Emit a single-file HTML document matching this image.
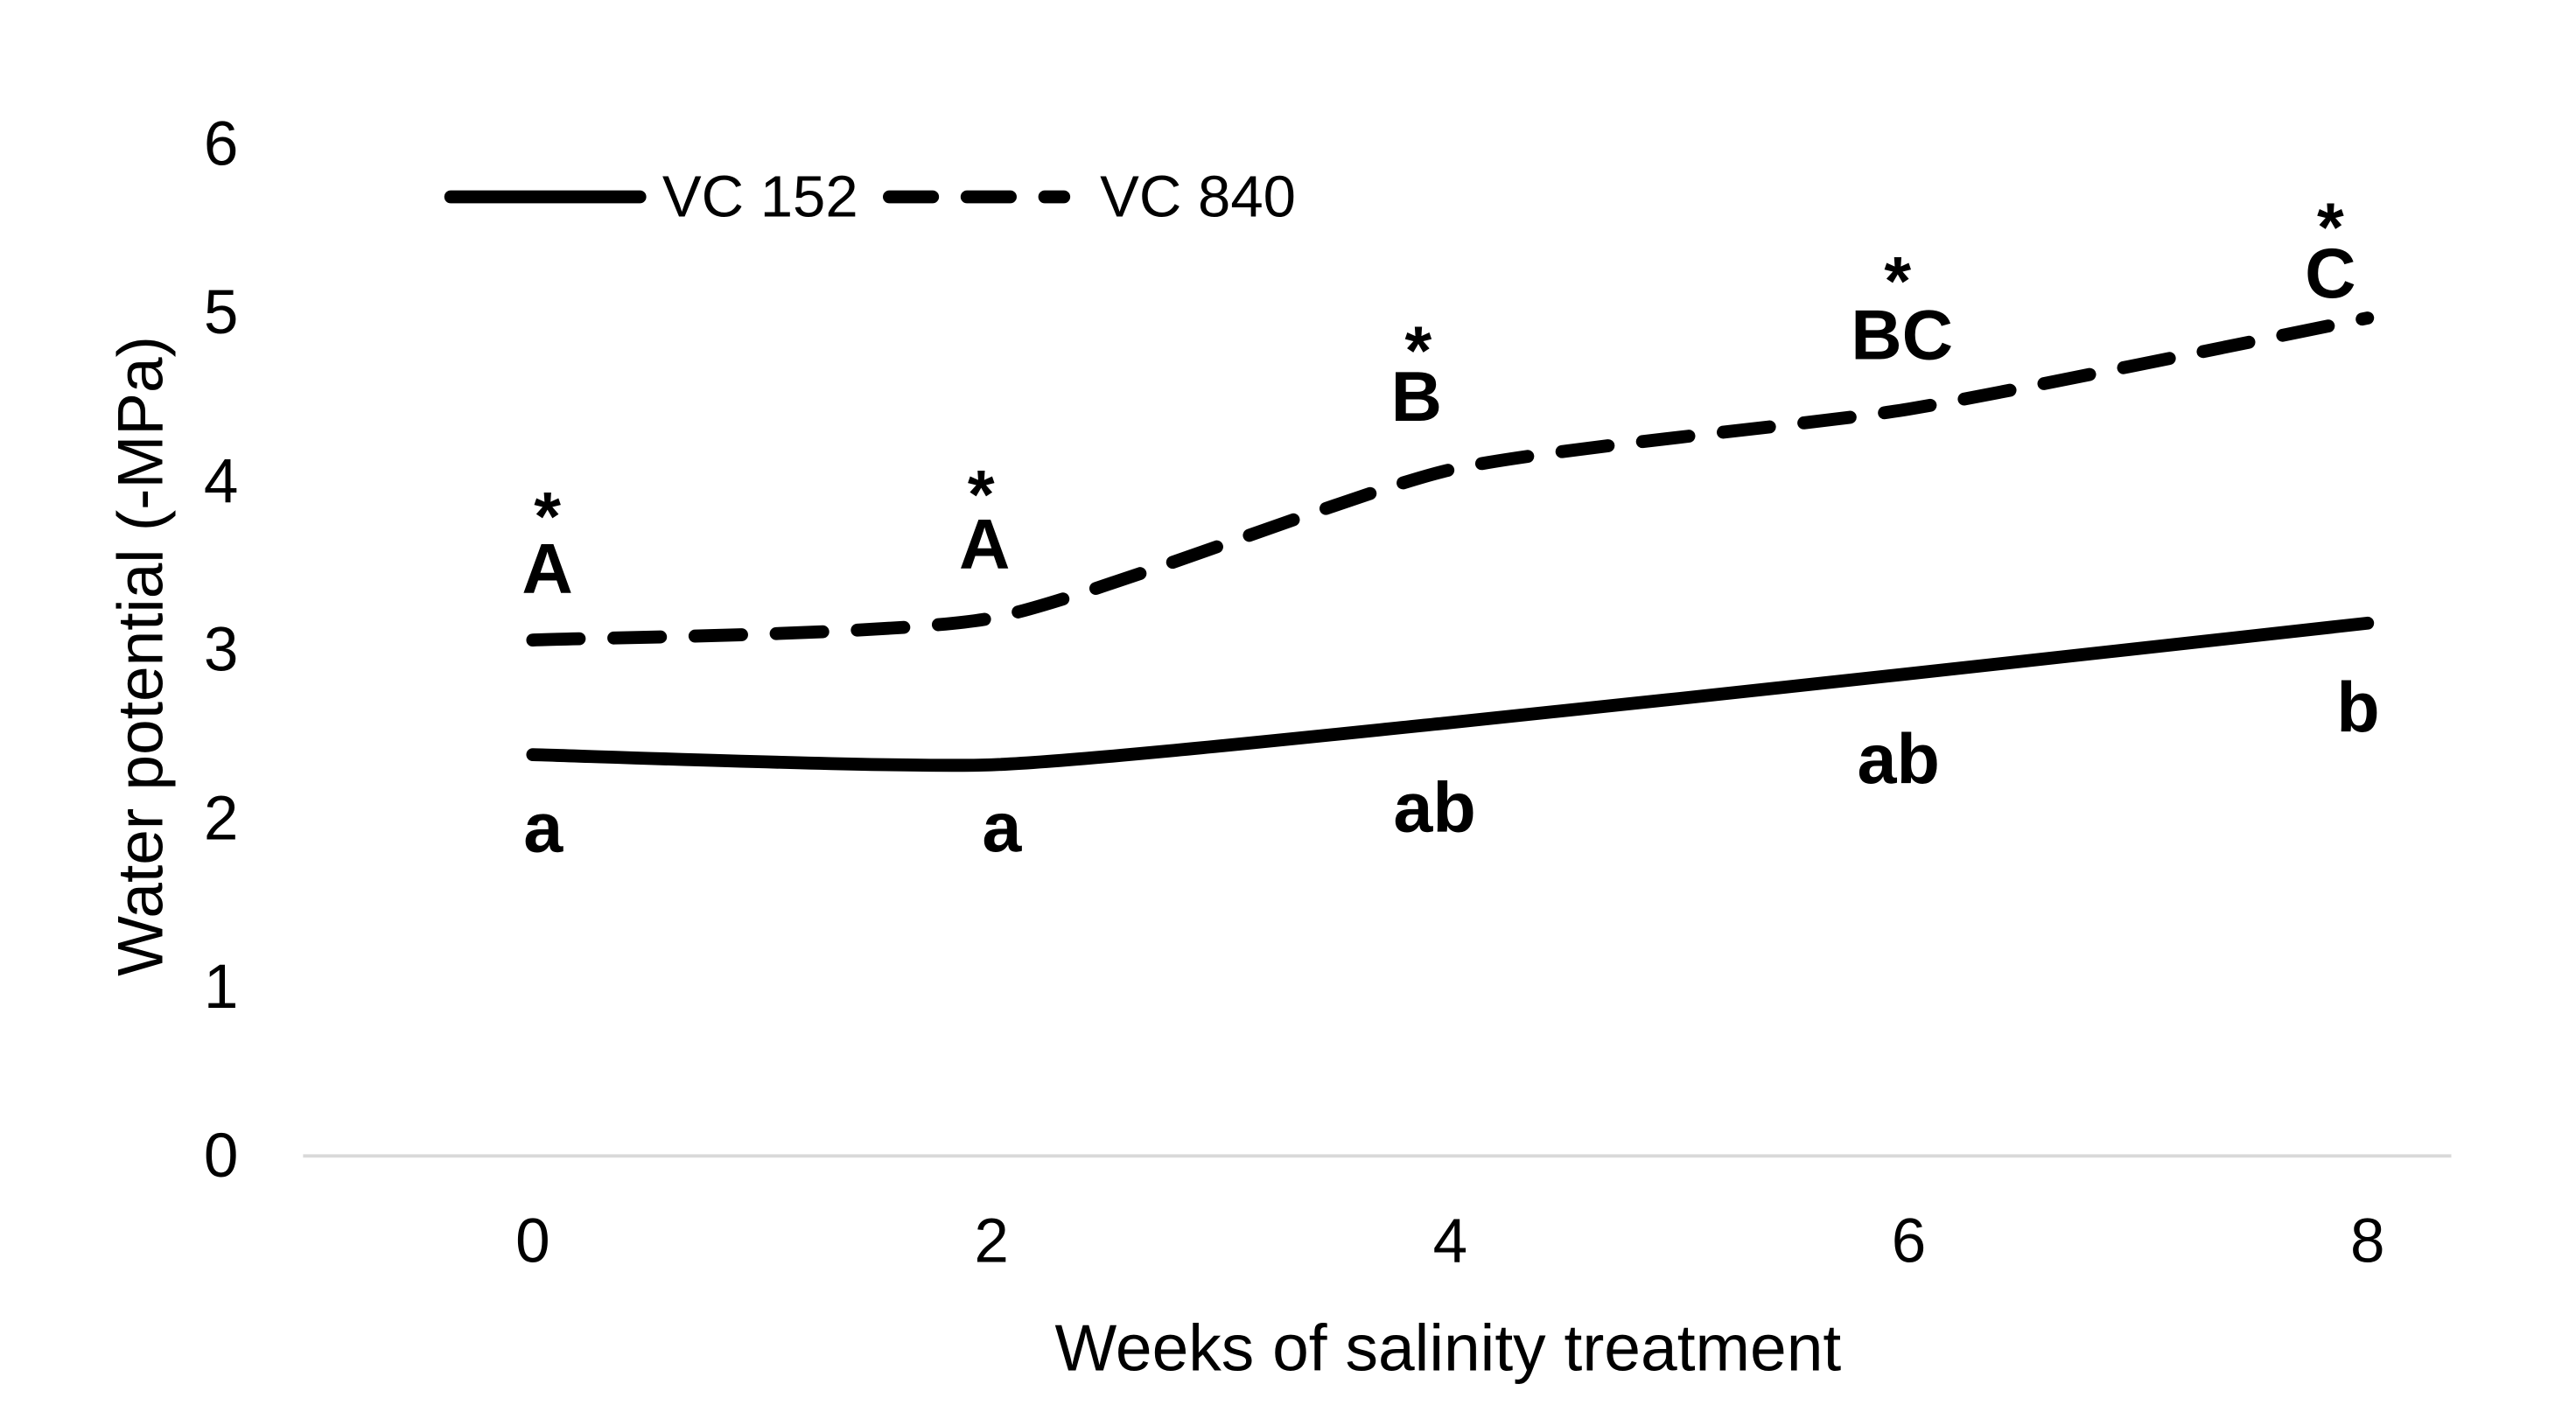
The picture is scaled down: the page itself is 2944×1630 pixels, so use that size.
<!DOCTYPE html>
<html><head><meta charset="utf-8"><style>
html,body{margin:0;padding:0;background:#fff;}
svg{display:block;font-family:"Liberation Sans",sans-serif;}
</style></head><body>
<svg id="chart" width="2944" height="1630" viewBox="0 0 2944 1630">
<rect width="2944" height="1630" fill="#fff"/>
<g transform="scale(0.9868)">
<g id="axes"></g><g id="series"></g><g id="labels"></g>
<text x="163" y="760" transform="rotate(-90 163 760)" text-anchor="middle" dominant-baseline="central" font-size="74" fill="#000">Water potential (-MPa)</text>
<text x="1677" y="1561" text-anchor="middle" dominant-baseline="central" font-size="76" fill="#000">Weeks of salinity treatment</text>
<g>
<line x1="522" y1="228" x2="741" y2="228" stroke="#000" stroke-width="15" stroke-linecap="round"/>
<text x="767" y="228" dominant-baseline="central" font-size="68">VC 152</text>
<line x1="1030" y1="228" x2="1232" y2="228" stroke="#000" stroke-width="15" stroke-linecap="round" stroke-dasharray="50 40"/>
<text x="1274" y="228" dominant-baseline="central" font-size="68">VC 840</text>
</g>
</g>
</svg>
<script>
const weeks=[0,2,4,6,8];
const vc152=[2.38,2.32,2.57,2.86,3.16];
const vc840=[3.06,3.19,4.07,4.43,4.97];
const yTicks=[0,1,2,3,4,5,6];
const lowerLetters=["a","a","ab","ab","b"];
const upperLetters=["A","A","B","BC","C"];
const NS="http://www.w3.org/2000/svg";
function xs(w){return 617+w*(2742-617)/8;}
function ys(v){return 1339-v*195.3;}
function mk(t,a,p){const e=document.createElementNS(NS,t);for(const k in a)e.setAttribute(k,a[k]);p.appendChild(e);return e;}
const axes=document.getElementById('axes');
const base=mk('line',{x1:351,x2:2839,y1:ys(0),y2:ys(0),stroke:'#d9d9d9','stroke-width':4},axes);


yTicks.forEach(t=>{const e=mk('text',{x:256,y:ys(t),'text-anchor':'middle','dominant-baseline':'central','font-size':72},axes);e.textContent=t;

});
weeks.forEach(w=>{const e=mk('text',{x:xs(w),y:1438,'text-anchor':'middle','dominant-baseline':'central','font-size':72},axes);e.textContent=w;

});
function smooth(vals){const p=weeks.map((w,i)=>[xs(w),ys(vals[i])]);let d='M'+p[0][0]+','+p[0][1];const t=0.1;
for(let i=0;i<p.length-1;i++){const p0=p[i-1]||p[i],p1=p[i],p2=p[i+1],p3=p[i+2]||p2;
const c1=[p1[0]+(p2[0]-p0[0])*t,p1[1]+(p2[1]-p0[1])*t],c2=[p2[0]-(p3[0]-p1[0])*t,p2[1]-(p3[1]-p1[1])*t];
d+=' C'+c1+' '+c2+' '+p2;}return d;}
const series=document.getElementById('series');
const s1=mk('path',{d:smooth(vc152),fill:'none',stroke:'#000','stroke-width':15,'stroke-linecap':'round','stroke-linejoin':'round'},series);


const s2=mk('path',{d:smooth(vc840),fill:'none',stroke:'#000','stroke-width':15,'stroke-linecap':'round','stroke-dasharray':'54 40'},series);


const lab=document.getElementById('labels');
const lowDy=[85,73,99,99,98], lowDx=[12,12,-18,-12,-11];
const upDy=[-82,-85,-84,-85,-51], upDx=[17,-8,-39,-8,-43];
const stDy=[-165,-165,-160,-170,-127], stDx=[17,-12,-37,-13,-43];
weeks.forEach((w,i)=>{
 const a=mk('text',{x:xs(w)+lowDx[i],y:ys(vc152[i])+lowDy[i],'text-anchor':'middle','dominant-baseline':'central','font-size':82,'font-weight':'bold'},lab);a.textContent=lowerLetters[i];
 
 
 const b=mk('text',{x:xs(w)+upDx[i],y:ys(vc840[i])+upDy[i],'text-anchor':'middle','dominant-baseline':'central','font-size':82,'font-weight':'bold'},lab);b.textContent=upperLetters[i];
 
 
 const s=mk('text',{x:xs(w)+stDx[i],y:ys(vc840[i])+stDy[i]+22,'text-anchor':'middle','dominant-baseline':'central','font-size':80,'font-weight':'bold'},lab);s.textContent='*';
 
 
});
</script>
</body></html>
